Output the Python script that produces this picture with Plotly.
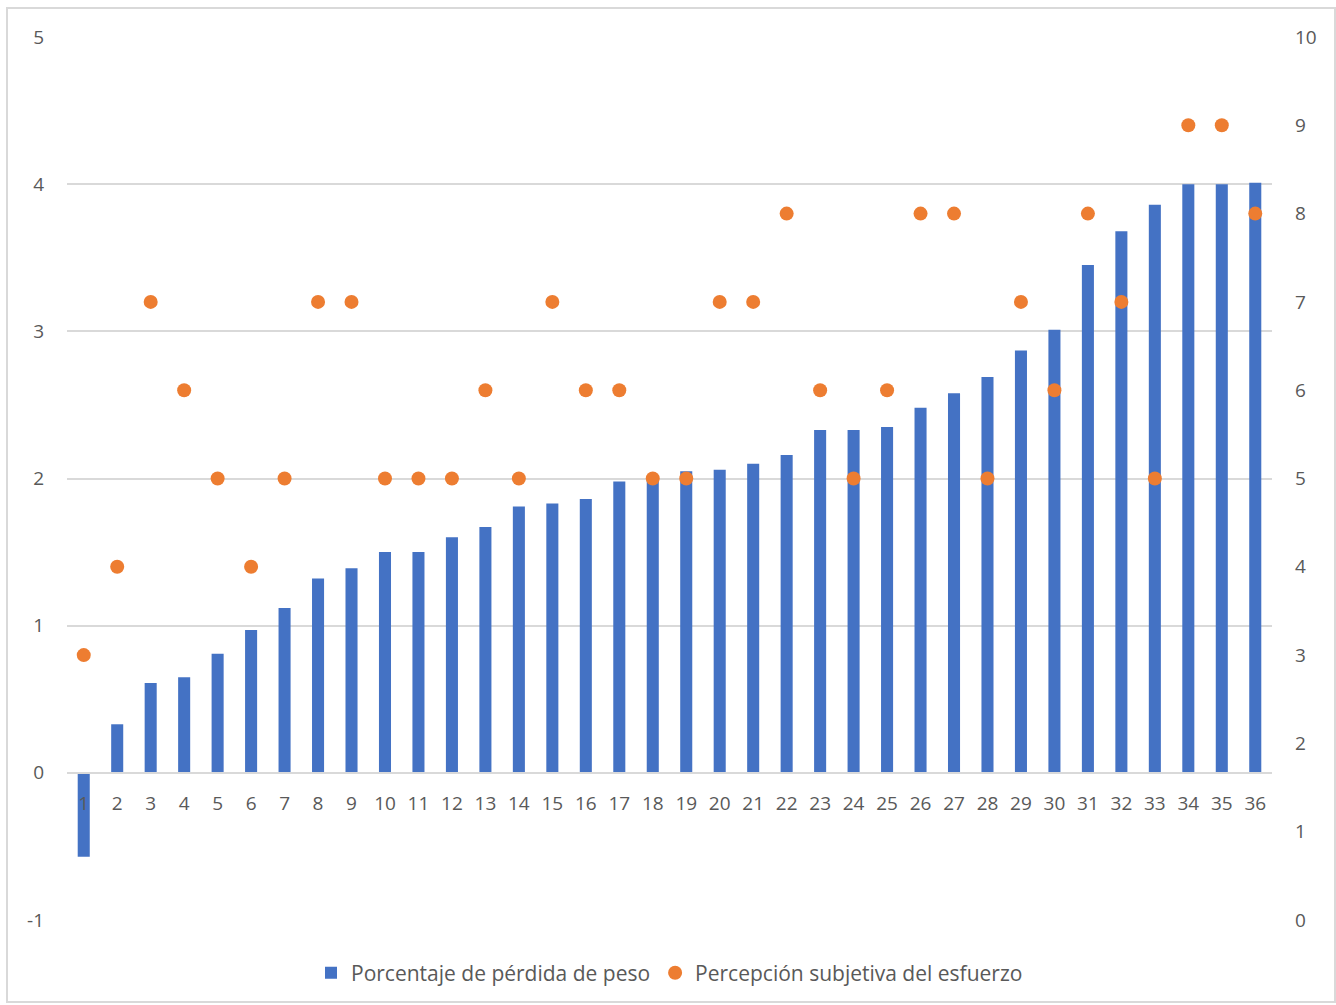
import plotly.graph_objects as go

# Subject number, weight-loss percentage (left axis) and perceived effort (right axis)
sujetos = [str(i) for i in range(1, 37)]
perdida_peso = [-0.57, 0.33, 0.61, 0.65, 0.81, 0.97, 1.12, 1.32, 1.39, 1.50,
                1.50, 1.60, 1.67, 1.81, 1.83, 1.86, 1.98, 2.00, 2.05, 2.06,
                2.10, 2.16, 2.33, 2.33, 2.35, 2.48, 2.58, 2.69, 2.87, 3.01,
                3.45, 3.68, 3.86, 4.00, 4.00, 4.01]
esfuerzo = [3, 4, 7, 6, 5, 4, 5, 7, 7, 5,
            5, 5, 6, 5, 7, 6, 6, 5, 5, 7,
            7, 8, 6, 5, 6, 8, 8, 5, 7, 6,
            8, 7, 5, 9, 9, 8]

izq_ticks = [-1, 0, 1, 2, 3, 4, 5]
izq_texto = ["-1", "0", "1", "2", "3", "4", "5"]
der_ticks = list(range(0, 11))

AZUL = "#4472C4"
NARANJA = "#ED7D31"
GRIS_TXT = "#595959"
GRIS_LINEA = "#D9D9D9"
FUENTE = "Open Sans"

fig = go.Figure()
fig.add_trace(go.Bar(
    x=sujetos, y=perdida_peso, name="Porcentaje de pérdida de peso",
    marker=dict(color=AZUL, line=dict(width=0)), yaxis="y", xaxis="x",
))
fig.add_trace(go.Scatter(
    x=sujetos, y=esfuerzo, name="Percepción subjetiva del esfuerzo",
    mode="markers", marker=dict(color=NARANJA, size=14, line=dict(width=0)),
    yaxis="y2", xaxis="x",
))

y_min, y_max = izq_ticks[0], izq_ticks[-1]
fig.update_layout(
    width=1336, height=1005,
    margin=dict(l=67, r=64, t=37, b=84),
    paper_bgcolor="white", plot_bgcolor="white",
    font=dict(family=FUENTE, size=19, color=GRIS_TXT),
    bargap=0.64,
    showlegend=True,
    legend=dict(orientation="h", x=0.5, xanchor="center", y=-0.059, yanchor="middle",
                font=dict(size=21, color=GRIS_TXT), itemsizing="trace",
                traceorder="normal", itemwidth=30),
    xaxis=dict(
        type="category", anchor="free",
        range=[-0.5, len(sujetos) - 0.5], autorange=False,
        position=(0 - y_min) / (y_max - y_min),
        showgrid=False, zeroline=False,
        showline=True, linecolor=GRIS_LINEA, linewidth=2,
        ticks="outside", ticklen=13, tickcolor="rgba(0,0,0,0)",
        tickfont=dict(size=19, color=GRIS_TXT),
    ),
    yaxis=dict(
        range=[y_min, y_max], tickvals=izq_ticks, ticktext=izq_texto,
        showgrid=True, gridcolor=GRIS_LINEA, gridwidth=2,
        zeroline=False, showline=False, ticks="",
        ticklabelstandoff=22,
        tickfont=dict(size=19, color=GRIS_TXT),
    ),
    yaxis2=dict(
        range=[der_ticks[0], der_ticks[-1]], tickvals=der_ticks,
        overlaying="y", side="right",
        showgrid=False, zeroline=False, showline=False, ticks="",
        ticklabelstandoff=22,
        tickfont=dict(size=19, color=GRIS_TXT),
    ),
)

# Light frame around the whole chart area
fig.add_shape(type="rect", xref="paper", yref="paper",
              x0=-60 / 1205, x1=1268 / 1205, y0=-82 / 884, y1=(884 + 29) / 884,
              line=dict(color=GRIS_LINEA, width=2), fillcolor="rgba(0,0,0,0)", layer="below")

fig.write_html("out.html")
